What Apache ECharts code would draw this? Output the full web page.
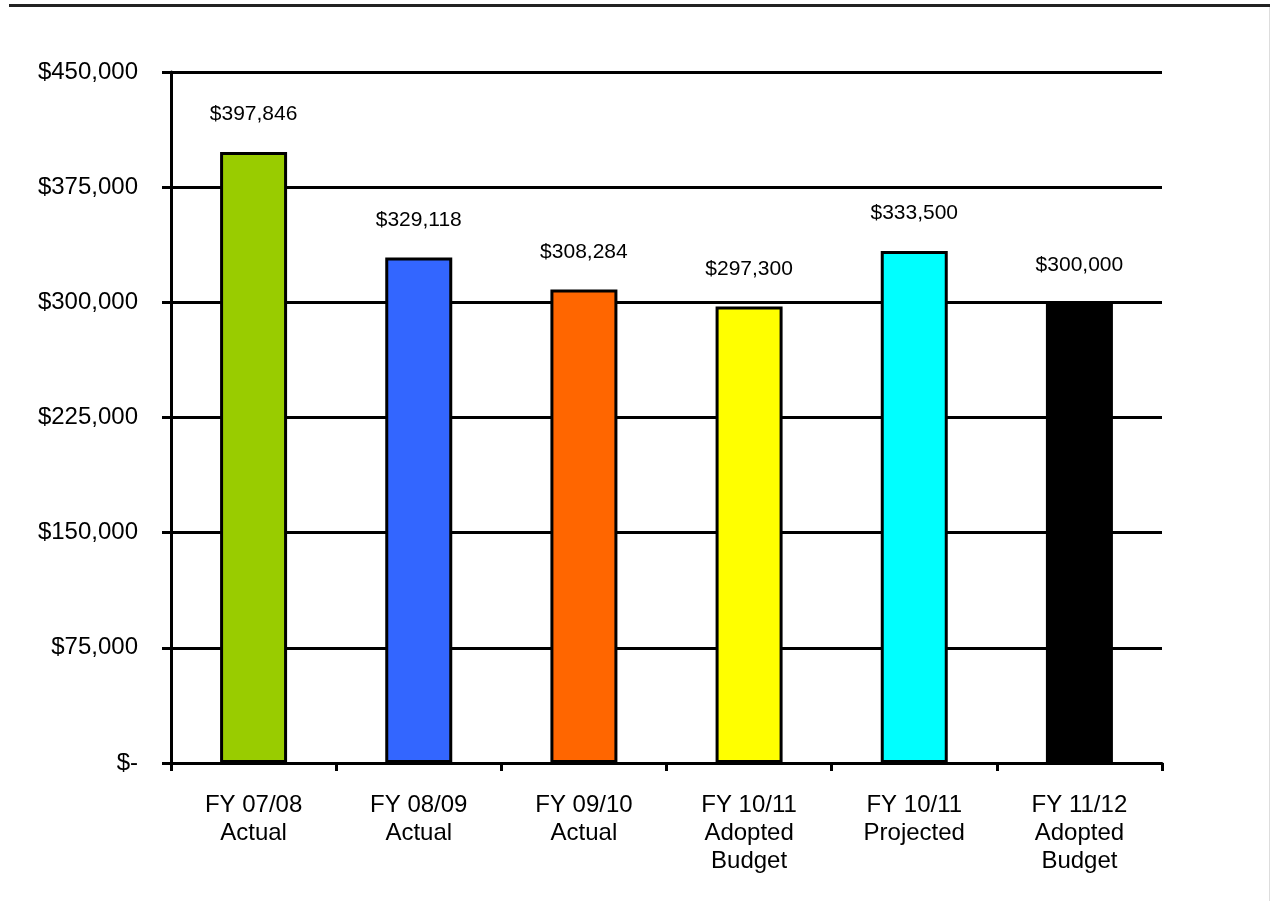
<!DOCTYPE html>
<html>
<head>
<meta charset="utf-8">
<script src="https://cdn.jsdelivr.net/npm/echarts@6/dist/echarts.min.js"></script>
<style>
  html, body { margin: 0; padding: 0; background: #fff; }
  #chart { width: 1270px; height: 901px; }
</style>
</head>
<body>
<div id="chart"></div>
<script>
  var categories = ['FY 07/08\nActual', 'FY 08/09\nActual', 'FY 09/10\nActual',
    'FY 10/11\nAdopted\nBudget', 'FY 10/11\nProjected', 'FY 11/12\nAdopted\nBudget']
  var values = [397846, 329118, 308284, 297300, 333500, 300000]
  var barColors = ['#99CC00', '#3366FF', '#FF6600', '#FFFF00', '#00FFFF', '#000000']
  var yTicks = {min: 0, max: 450000, step: 75000}

  function money(v) {
    if (v === 0) return '$-'
    return '$' + String(v).replace(/\B(?=(\d{3})+(?!\d))/g, ',')
  }

  var myChart = echarts.init(document.getElementById('chart'))
  var option = {
    animation: false,
    backgroundColor: '#fff',
    textStyle: {fontFamily: 'Liberation Sans, Arial, sans-serif'},
    grid: {left: 171, right: 108, top: 72, bottom: 138},
    graphic: [{
      type: 'line',
      shape: {x1: 9, y1: 5.5, x2: 1270, y2: 5.5},
      style: {stroke: '#222', lineWidth: 3}
    }, {
      type: 'line',
      shape: {x1: 1269.5, y1: 7, x2: 1269.5, y2: 901},
      style: {stroke: '#ddd', lineWidth: 1}
    }],
    xAxis: {
      type: 'category',
      data: categories,
      axisLine: {lineStyle: {color: '#000', width: 3}},
      axisTick: {show: true, length: 8, lineStyle: {color: '#000', width: 3}},
      axisLabel: {
        color: '#000',
        fontSize: 24,
        lineHeight: 28,
        margin: 28,
        interval: 0
      }
    },
    yAxis: {
      type: 'value',
      min: yTicks.min,
      max: yTicks.max,
      interval: yTicks.step,
      axisLine: {show: true, lineStyle: {color: '#000', width: 3}},
      axisTick: {show: true, length: 9, lineStyle: {color: '#000', width: 3}},
      splitLine: {lineStyle: {color: '#000', width: 3}},
      axisLabel: {
        color: '#000',
        fontSize: 24,
        margin: 33,
        formatter: money
      }
    },
    series: [{
      type: 'bar',
      barWidth: 67,
      data: values.map(function (v, i) {
        return {value: v, itemStyle: {color: barColors[i]}}
      }),
      itemStyle: {borderColor: '#000', borderWidth: 3},
      label: {
        show: true,
        position: 'top',
        distance: 27,
        color: '#000',
        fontSize: 21,
        formatter: function (p) { return money(p.value) }
      }
    }]
  }
  myChart.setOption(option)
</script>
</body>
</html>
